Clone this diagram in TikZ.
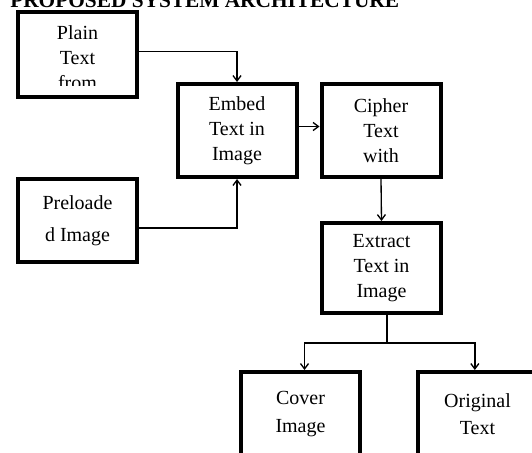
\documentclass[tikz,border=0pt]{standalone}
\usepackage{fontspec}
\setmainfont{Liberation Serif}
\usetikzlibrary{arrows.meta}
\begin{document}
\begin{tikzpicture}[x=0.75pt,y=-0.75pt,
		box/.style={draw,line width=3pt,minimum width=89.25pt,inner sep=0pt,align=center,font=\fontsize{15}{18.75}\selectfont},
		link/.style={line width=1pt},
		arr/.style={link,-{Straight Barb[length=4pt,width=6pt]}}]
	\path[use as bounding box,clip] (0,0) rectangle (532,453);
	\node[anchor=base west,inner sep=0pt,font=\fontsize{16}{19}\selectfont\bfseries] (title) at (10,8) {PROPOSED SYSTEM ARCHITECTURE};
	% left column
	\node[box,minimum height=63.75pt] (plain) at (77.5,54.5) {};
	\begin{scope}
		\clip (18,12) rectangle (137,86);
		\node[box,draw=none] (plaintext) at (77.5,57.5) {Plain\\Text\\from};
	\end{scope}
	\node[box,minimum height=62.25pt] (preload) at (77.5,220.5) {Preloade\\[5.25pt]d Image};
	% middle and right
	\node[box,minimum height=69.75pt] (embed) at (237,130.5) {Embed\\Text in\\Image};
	\node[box,minimum height=69.75pt] (cipher) at (381,130.5) {Cipher\\Text\\with};
	\node[box,minimum height=67.5pt] (extract) at (381.5,268) {Extract\\Text in\\Image};
	\node[box,minimum height=63.75pt] (cover) at (300.5,414.5) {Cover\\[2.25pt]Image};
	\node[box,minimum height=63.75pt] (original) at (477.5,414.5) {Original\\[1.5pt]Text};
	\coordinate (split) at (387,343);
	% connectors
	\draw[arr] ([yshift=2pt]plain.east) -| (embed.north);
	\draw[arr] ([yshift=-5.5pt]preload.east) -| (embed.south);
	\draw[arr] ([yshift=3pt]embed.east) -- ([yshift=3pt]cipher.west);
	\draw[arr] (cipher.south) -- (extract.north);
	\draw[link] (split |- extract.south) -- (split);
	\draw[arr] (split) -| ([xshift=3pt]cover.north);
	\draw[arr] (split) -| ([xshift=-2pt]original.north);
\end{tikzpicture}
\end{document}
